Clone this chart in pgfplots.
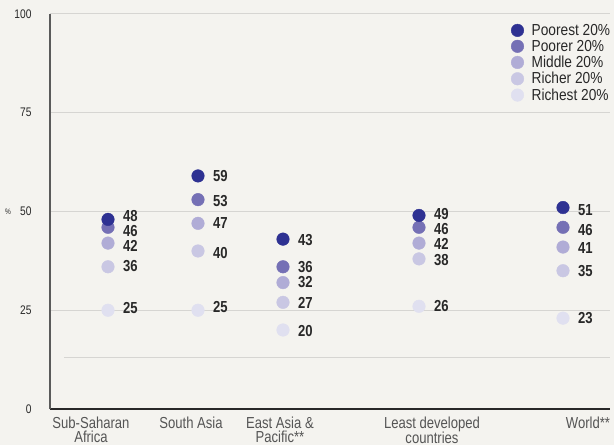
\documentclass[border=0pt]{standalone}
\usepackage{fontspec}
\setmainfont[FakeStretch=0.82]{Liberation Sans}
\newfontfamily\legfont[FakeStretch=0.86]{Liberation Sans}
\usepackage{pgfplots}
\pgfplotsset{compat=1.18}
\usepackage{pgfplotstable}
\definecolor{bg}{RGB}{244,243,239}
\definecolor{cpoorest}{RGB}{46,49,146}
\definecolor{cpoorer}{RGB}{117,112,181}
\definecolor{cmiddle}{RGB}{176,172,214}
\definecolor{cricher}{RGB}{201,199,227}
\definecolor{crichest}{RGB}{224,224,240}
\definecolor{gridc}{RGB}{214,213,210}
\definecolor{axc}{RGB}{90,90,90}
\definecolor{txt}{RGB}{40,40,40}
\definecolor{ltxt}{RGB}{85,85,85}

\pgfplotstableread{
x y ly
108 48 48.9
198 59 59.0
283 43 42.8
419 49 49.3
563 51 50.4
}\poorest
\pgfplotstableread{
x y ly
108 46 45.0
198 53 52.7
283 36 35.9
419 46 45.6
563 46 45.3
}\poorer
\pgfplotstableread{
x y ly
108 42 41.3
198 47 47.1
283 32 32.2
419 42 41.8
563 41 40.8
}\middle
\pgfplotstableread{
x y ly
108 36 36.2
198 40 39.5
283 27 26.8
419 38 37.8
563 35 34.9
}\richer
\pgfplotstableread{
x y ly
108 25 25.6
198 25 25.8
283 20 19.7
419 26 26.1
563 23 23.0
}\richest

\begin{document}
\begin{tikzpicture}
\path[use as bounding box, fill=bg] (0,0) rectangle (614bp,445bp);
\begin{axis}[
  at={(50bp,36bp)}, anchor=south west,
  scale only axis, width=560bp, height=395bp,
  xmin=50, xmax=610, ymin=0, ymax=100,
  clip=false,
  axis x line=bottom, axis y line=left,
  axis line style={-, color=axc, line width=1.1bp},
  x axis line style={color=txt},
  ytick={0,25,50,75,100},
  ymajorgrids, grid style={gridc, line width=1bp},
  major tick length=0pt,
  /pgf/number format/assume math mode=true,
  yticklabel style={font=\fontsize{12.5}{13}\selectfont, text=txt, xshift=-15bp},
  xtick={91,191,280,432,588},
  xticklabels={Sub-Saharan\\Africa, South Asia, East Asia \&\\Pacific**, Least developed\\countries, World**},
  xticklabel style={font=\fontsize{16}{14.5}\selectfont, text=ltxt, align=center, yshift=-4bp},
  ylabel={\%}, ylabel style={font=\fontsize{8}{8}\selectfont, text=txt, rotate=-90, at={(axis cs:8,50)}, anchor=center},
  reverse legend,
  legend style={at={(axis cs:511,98)}, anchor=north west, draw=none, fill=none,
    font=\legfont\fontsize{16}{16}\selectfont, text=txt, row sep=-0.7bp, inner sep=0pt,
    cells={anchor=west}},
  legend image code/.code={\draw[#1] plot coordinates {(6bp,0bp)}; \path (0bp,0bp) (18bp,0bp);},
  every node near coord/.append style={font=\bfseries\fontsize{16}{16}\selectfont, text=txt, anchor=west, inner sep=0pt, xshift=15bp},
]
\addplot[gridc, line width=1bp, forget plot] coordinates {(64,13.1) (610,13.1)};

\addplot[only marks, mark=*, mark size=6.3bp, color=crichest] table[x=x,y=y] {\richest};
\addlegendentry{Richest 20\%}
\addplot[only marks, mark=*, mark size=6.3bp, color=cricher] table[x=x,y=y] {\richer};
\addlegendentry{Richer 20\%}
\addplot[only marks, mark=*, mark size=6.3bp, color=cmiddle] table[x=x,y=y] {\middle};
\addlegendentry{Middle 20\%}
\addplot[only marks, mark=*, mark size=6.3bp, color=cpoorer] table[x=x,y=y] {\poorer};
\addlegendentry{Poorer 20\%}
\addplot[only marks, mark=*, mark size=6.3bp, color=cpoorest] table[x=x,y=y] {\poorest};
\addlegendentry{Poorest 20\%}

\addplot[draw=none, mark=none, forget plot, point meta=explicit, nodes near coords] table[x=x,y=ly,meta=y] {\richest};
\addplot[draw=none, mark=none, forget plot, point meta=explicit, nodes near coords] table[x=x,y=ly,meta=y] {\richer};
\addplot[draw=none, mark=none, forget plot, point meta=explicit, nodes near coords] table[x=x,y=ly,meta=y] {\middle};
\addplot[draw=none, mark=none, forget plot, point meta=explicit, nodes near coords] table[x=x,y=ly,meta=y] {\poorer};
\addplot[draw=none, mark=none, forget plot, point meta=explicit, nodes near coords] table[x=x,y=ly,meta=y] {\poorest};
\end{axis}
\end{tikzpicture}
\end{document}
